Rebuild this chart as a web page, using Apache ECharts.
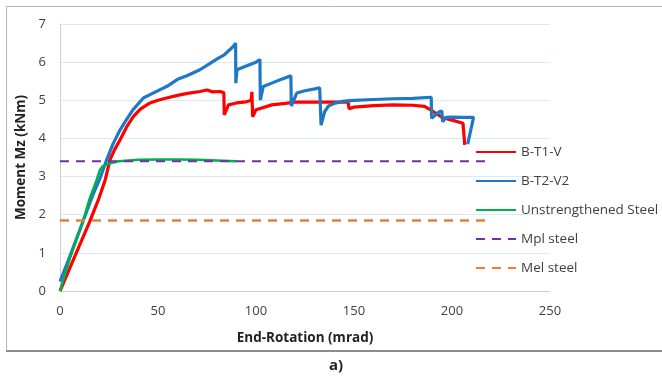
<!DOCTYPE html>
<html>
<head>
<meta charset="utf-8">
<script src="https://cdn.jsdelivr.net/npm/echarts@6/dist/echarts.min.js"></script>
<style>
  html, body { margin: 0; padding: 0; background: #fff; }
  #chart { width: 662px; height: 381px; }
</style>
</head>
<body>
<div id="chart"></div>
<script>
// B-T1-V (red)
const t1Rot = [0, 5, 10, 15, 20, 23, 25.5, 28, 30.6, 34, 37.4, 41, 45.9, 50, 54.4, 60, 65, 71.4, 75, 78, 81.6, 83.6,
  83.8, 86, 90, 95, 97.6, 97.9, 98.3, 100, 103, 108, 115, 120, 130, 140, 147, 147.5, 150, 160, 170, 180, 186, 190,
  195, 200, 205.6, 206.5]
const t1Mom = [0, 0.6, 1.2, 1.8, 2.45, 2.9, 3.44, 3.72, 3.96, 4.3, 4.57, 4.77, 4.93, 5.0, 5.06, 5.13, 5.18, 5.23, 5.27, 5.22, 5.23, 5.2,
  4.62, 4.88, 4.93, 4.96, 5.0, 5.22, 4.57, 4.75, 4.8, 4.88, 4.92, 4.95, 4.95, 4.95, 4.95, 4.78, 4.82, 4.86, 4.88, 4.87, 4.84, 4.72,
  4.55, 4.48, 4.4, 3.83]
// B-T2-V2 (blue)
const t2Rot = [0, 5, 11.9, 17, 20.4, 23.8, 27, 30.6, 34, 37.2, 42.5, 48, 54.4, 60, 65, 71.4, 76, 80, 84, 88.4, 89.6,
  89.7, 90.3, 95, 100, 102, 102.2, 103.7, 108, 113, 117.8, 118.0, 120.8, 125, 130, 132.5, 133.2, 135, 137, 140, 145, 150,
  160, 170, 180, 189.4, 189.6, 193.5, 194.8, 195.2, 197, 200, 205, 211, 208]
const t2Mom = [0.25, 0.9, 1.85, 2.55, 2.95, 3.44, 3.85, 4.22, 4.5, 4.75, 5.06, 5.2, 5.36, 5.55, 5.65, 5.8, 5.95, 6.08, 6.2, 6.41, 6.5,
  5.45, 5.8, 5.9, 6.0, 6.07, 5.0, 5.36, 5.45, 5.55, 5.64, 4.85, 5.19, 5.25, 5.3, 5.33, 4.35, 4.7, 4.85, 4.92, 4.98, 5.0,
  5.02, 5.04, 5.05, 5.08, 4.53, 4.7, 4.72, 4.44, 4.55, 4.56, 4.55, 4.55, 3.85]
// Unstrengthened Steel (green)
const usRot = [0, 5, 11.9, 15, 18.7, 20.4, 22, 25.5, 30, 35, 40, 50, 60, 70, 80, 90]
const usMom = [0, 0.85, 1.85, 2.4, 2.91, 3.18, 3.28, 3.35, 3.4, 3.42, 3.44, 3.45, 3.45, 3.44, 3.42, 3.4]
// limit lines
const limRot = [0, 217]
const mplMom = 3.4
const melMom = 1.85

const xTicks = [0, 50, 100, 150, 200, 250]
const yTicks = [0, 1, 2, 3, 4, 5, 6, 7]

const pairs = (xs, ys) => xs.map((x, i) => [x, ys[i]])
const flat = (xs, v) => xs.map(x => [x, v])

const font = "'Open Sans', 'Liberation Sans', sans-serif"

const myChart = echarts.init(document.getElementById("chart"))

let option = {
  animation: false,
  textStyle: { fontFamily: font },
  graphic: [
    {
      type: "rect",
      shape: { x: 6.5, y: 6.5, width: 700, height: 344 },
      style: { fill: "none", stroke: "#b4b4b4", lineWidth: 1 },
      silent: true
    },
    {
      type: "line",
      shape: { x1: 6, y1: 351, x2: 662, y2: 351 },
      style: { stroke: "#8c8c8c", lineWidth: 2 },
      silent: true
    },
    {
      type: "text",
      left: 329,
      top: 358,
      style: { text: "a)", fontFamily: font, fontSize: 15, fontWeight: "bold", fill: "#222" }
    }
  ],
  grid: { left: 60, right: 112, top: 24, bottom: 90 },
  legend: {
    orient: "vertical",
    left: 470,
    top: 140,
    itemWidth: 40,
    itemHeight: 14,
    itemGap: 15,
    itemStyle: { opacity: 0 },
    textStyle: { fontFamily: font, fontSize: 13.5, color: "#404040" },
    data: ["B-T1-V", "B-T2-V2", "Unstrengthened Steel", "Mpl steel", "Mel steel"]
  },
  xAxis: {
    type: "value",
    min: xTicks[0],
    max: xTicks[xTicks.length - 1],
    interval: 50,
    name: "End-Rotation (mrad)",
    nameLocation: "middle",
    nameGap: 40,
    nameTextStyle: { fontFamily: font, fontSize: 13.5, fontWeight: "bold", color: "#222" },
    axisLine: { show: true, lineStyle: { color: "#d0d0d0", width: 1 } },
    axisTick: { show: false },
    axisLabel: { fontFamily: font, fontSize: 13, color: "#404040", margin: 14 },
    splitLine: { show: false }
  },
  yAxis: {
    type: "value",
    min: yTicks[0],
    max: yTicks[yTicks.length - 1],
    interval: 1,
    name: "Moment Mz (kNm)",
    nameLocation: "middle",
    nameGap: 22,
    nameTextStyle: { fontFamily: font, fontSize: 13.5, fontWeight: "bold", color: "#222" },
    axisLine: { show: true, lineStyle: { color: "#d0d0d0", width: 1 } },
    axisTick: { show: false },
    axisLabel: { fontFamily: font, fontSize: 13, color: "#404040", margin: 14 },
    splitLine: { show: true, lineStyle: { color: "#d5ecf8", width: 1 } }
  },
  series: [
    {
      name: "B-T1-V",
      type: "line",
      data: pairs(t1Rot, t1Mom),
      showSymbol: false,
      symbol: "none",
      color: "#ff0000",
      lineStyle: { color: "#ff0000", width: 3.2 }
    },
    {
      name: "B-T2-V2",
      type: "line",
      data: pairs(t2Rot, t2Mom),
      showSymbol: false,
      symbol: "none",
      color: "#1f78c6",
      lineStyle: { color: "#1f78c6", width: 3.2 }
    },
    {
      name: "Unstrengthened Steel",
      type: "line",
      data: pairs(usRot, usMom),
      showSymbol: false,
      symbol: "none",
      color: "#00b050",
      lineStyle: { color: "#00b050", width: 2.5 }
    },
    {
      name: "Mpl steel",
      type: "line",
      data: flat(limRot, mplMom),
      showSymbol: false,
      symbol: "none",
      color: "#7030a0",
      lineStyle: { color: "#7030a0", width: 2, type: [9, 7] }
    },
    {
      name: "Mel steel",
      type: "line",
      data: flat(limRot, melMom),
      showSymbol: false,
      symbol: "none",
      color: "#ed7d31",
      lineStyle: { color: "#ed7d31", width: 2.5, type: [9, 7] }
    }
  ]
}

myChart.setOption(option)
</script>
</body>
</html>
